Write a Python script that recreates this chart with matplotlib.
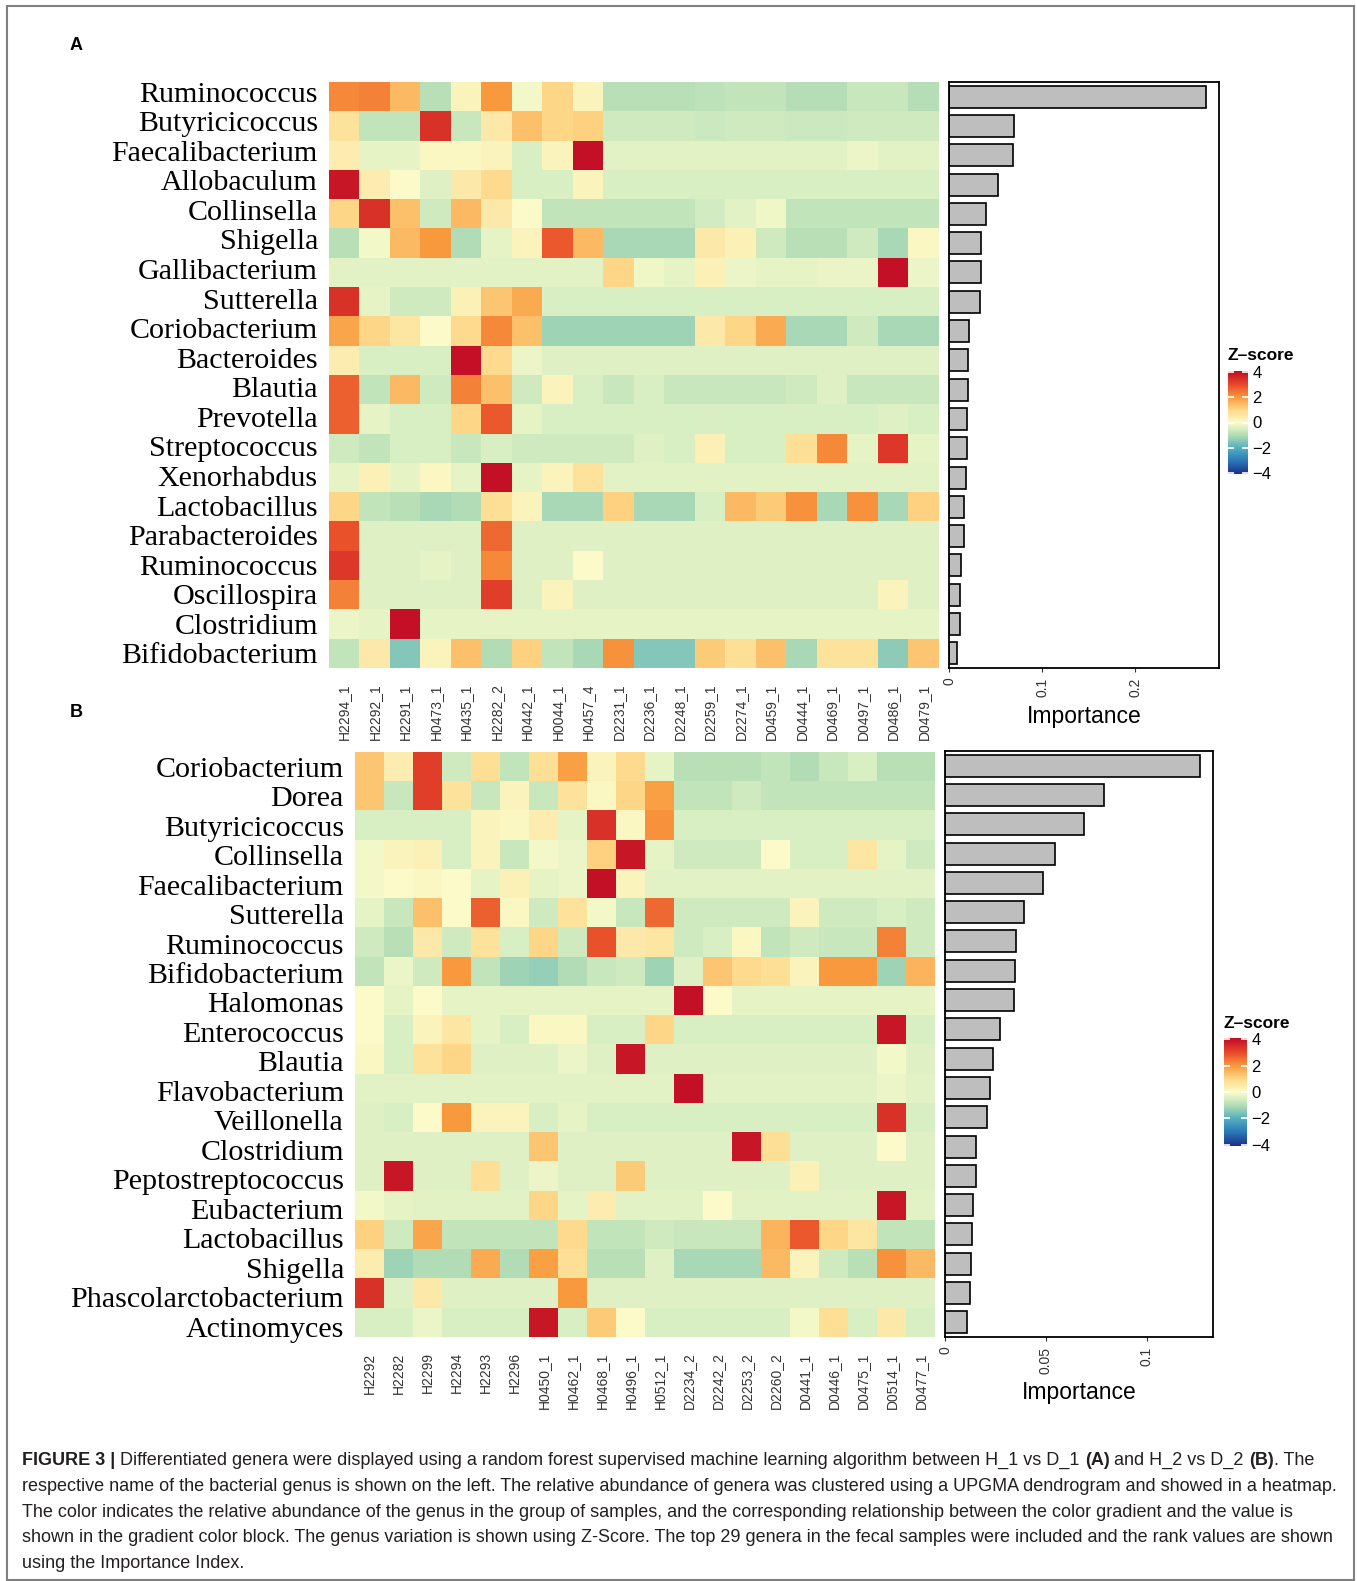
import numpy as np
import matplotlib
matplotlib.use("Agg")
import matplotlib.pyplot as plt
from matplotlib.colors import LinearSegmentedColormap, Normalize
from matplotlib.patches import Rectangle

W, H = 1357, 1581

# ---- panel A data ----
genera_a = ["Ruminococcus", "Butyricicoccus", "Faecalibacterium", "Allobaculum", "Collinsella",
            "Shigella", "Gallibacterium", "Sutterella", "Coriobacterium", "Bacteroides",
            "Blautia", "Prevotella", "Streptococcus", "Xenorhabdus", "Lactobacillus",
            "Parabacteroides", "Ruminococcus", "Oscillospira", "Clostridium", "Bifidobacterium"]
samples_a = ["H2294_1", "H2292_1", "H2291_1", "H0473_1", "H0435_1", "H2282_2", "H0442_1",
             "H0044_1", "H0457_4", "D2231_1", "D2236_1", "D2248_1", "D2259_1", "D2274_1",
             "D0459_1", "D0444_1", "D0469_1", "D0497_1", "D0486_1", "D0479_1"]
zscore_a = [
    [2.2, 2.3, 1.5, -0.9, 0.2, 2.0, -0.1, 1.0, 0.2, -0.9, -0.9, -0.9, -0.85, -0.8, -0.8, -0.95, -0.95, -0.7, -0.7, -0.95],
    [0.7, -0.8, -0.8, 3.4, -0.7, 0.5, 1.4, 1.0, 1.1, -0.6, -0.6, -0.6, -0.65, -0.6, -0.6, -0.65, -0.65, -0.6, -0.6, -0.6],
    [0.4, -0.3, -0.3, 0.1, 0.1, 0.2, -0.5, 0.2, 4.0, -0.35, -0.35, -0.35, -0.35, -0.35, -0.35, -0.35, -0.35, -0.2, -0.35, -0.35],
    [3.9, 0.4, 0.0, -0.4, 0.5, 0.9, -0.5, -0.5, 0.2, -0.5, -0.5, -0.5, -0.5, -0.5, -0.5, -0.5, -0.5, -0.5, -0.5, -0.5],
    [1.0, 3.4, 1.4, -0.6, 1.5, 0.5, 0.0, -0.8, -0.8, -0.8, -0.8, -0.8, -0.55, -0.35, -0.15, -0.8, -0.8, -0.8, -0.8, -0.8],
    [-0.9, -0.1, 1.5, 2.0, -1.0, -0.3, 0.2, 2.8, 1.5, -1.1, -1.1, -1.1, 0.5, 0.3, -0.6, -0.9, -0.9, -0.6, -1.1, 0.1],
    [-0.35, -0.35, -0.35, -0.35, -0.35, -0.35, -0.35, -0.35, -0.35, 1.0, -0.15, -0.3, 0.3, -0.2, -0.3, -0.3, -0.25, -0.25, 4.0, -0.2],
    [3.4, -0.3, -0.6, -0.6, 0.3, 1.3, 1.7, -0.5, -0.5, -0.5, -0.5, -0.5, -0.5, -0.5, -0.5, -0.5, -0.5, -0.5, -0.5, -0.5],
    [1.8, 1.0, 0.6, 0.0, 0.9, 2.2, 1.4, -1.2, -1.2, -1.2, -1.2, -1.2, 0.5, 1.0, 1.7, -1.1, -1.1, -0.6, -1.1, -1.1],
    [0.4, -0.5, -0.5, -0.5, 4.0, 0.9, -0.2, -0.4, -0.4, -0.4, -0.4, -0.4, -0.4, -0.4, -0.4, -0.4, -0.4, -0.4, -0.4, -0.4],
    [2.7, -0.8, 1.5, -0.6, 2.3, 1.4, -0.6, 0.2, -0.5, -0.7, -0.5, -0.7, -0.7, -0.7, -0.7, -0.6, -0.4, -0.7, -0.7, -0.7],
    [2.7, -0.3, -0.5, -0.5, 1.0, 2.8, -0.3, -0.5, -0.5, -0.5, -0.5, -0.5, -0.45, -0.5, -0.5, -0.5, -0.5, -0.5, -0.4, -0.5],
    [-0.6, -0.8, -0.5, -0.5, -0.7, -0.5, -0.6, -0.6, -0.6, -0.6, -0.4, -0.5, 0.3, -0.5, -0.5, 0.8, 2.2, -0.3, 3.3, -0.3],
    [-0.3, 0.3, -0.3, 0.1, -0.3, 4.0, -0.3, 0.2, 0.7, -0.35, -0.35, -0.35, -0.35, -0.35, -0.35, -0.35, -0.35, -0.35, -0.35, -0.35],
    [1.0, -0.8, -0.9, -1.1, -1.0, 0.8, 0.2, -1.1, -1.1, 1.1, -1.1, -1.1, -0.5, 1.5, 1.2, 2.1, -1.1, 2.1, -1.1, 1.1],
    [2.9, -0.4, -0.4, -0.4, -0.4, 2.6, -0.4, -0.4, -0.4, -0.4, -0.4, -0.4, -0.4, -0.4, -0.4, -0.4, -0.4, -0.4, -0.4, -0.4],
    [3.3, -0.4, -0.4, -0.3, -0.4, 2.2, -0.4, -0.4, 0.0, -0.4, -0.4, -0.4, -0.4, -0.4, -0.4, -0.4, -0.4, -0.4, -0.4, -0.4],
    [2.3, -0.4, -0.4, -0.4, -0.4, 3.2, -0.4, 0.2, -0.4, -0.4, -0.4, -0.4, -0.4, -0.4, -0.4, -0.4, -0.4, -0.4, 0.2, -0.4],
    [-0.2, -0.3, 4.0, -0.3, -0.3, -0.3, -0.3, -0.3, -0.3, -0.3, -0.3, -0.3, -0.3, -0.3, -0.3, -0.3, -0.3, -0.3, -0.3, -0.3],
    [-0.8, 0.5, -1.5, 0.2, 1.4, -1.0, 1.1, -0.8, -1.1, 2.1, -1.5, -1.5, 1.2, 0.8, 1.4, -1.1, 0.7, 0.7, -1.4, 1.3],
]
importance_a = [0.276, 0.070, 0.069, 0.0527, 0.040, 0.0343, 0.0343, 0.0329, 0.0217, 0.0206,
                0.0206, 0.0188, 0.0188, 0.018, 0.0166, 0.0166, 0.0126, 0.0119, 0.0119, 0.009]

# ---- panel B data ----
genera_b = ["Coriobacterium", "Dorea", "Butyricicoccus", "Collinsella", "Faecalibacterium",
            "Sutterella", "Ruminococcus", "Bifidobacterium", "Halomonas", "Enterococcus",
            "Blautia", "Flavobacterium", "Veillonella", "Clostridium", "Peptostreptococcus",
            "Eubacterium", "Lactobacillus", "Shigella", "Phascolarctobacterium", "Actinomyces"]
samples_b = ["H2292", "H2282", "H2299", "H2294", "H2293", "H2296", "H0450_1", "H0462_1",
             "H0468_1", "H0496_1", "H0512_1", "D2234_2", "D2242_2", "D2253_2", "D2260_2",
             "D0441_1", "D0446_1", "D0475_1", "D0514_1", "D0477_1"]
zscore_b = [
    [1.3, 0.4, 3.2, -0.6, 0.8, -0.8, 0.8, 1.9, 0.2, 0.9, -0.3, -0.9, -0.9, -0.9, -0.8, -1.0, -0.7, -0.5, -0.9, -0.9],
    [1.3, -0.7, 3.2, 0.7, -0.7, 0.2, -0.7, 0.7, 0.1, 1.0, 1.9, -0.8, -0.8, -0.6, -0.8, -0.8, -0.8, -0.8, -0.8, -0.8],
    [-0.5, -0.5, -0.5, -0.5, 0.2, 0.1, 0.4, -0.3, 3.4, 0.1, 2.1, -0.5, -0.5, -0.5, -0.5, -0.5, -0.5, -0.5, -0.5, -0.5],
    [-0.1, 0.2, 0.3, -0.5, 0.2, -0.7, -0.1, -0.2, 1.1, 3.9, -0.3, -0.6, -0.6, -0.6, 0.0, -0.5, -0.5, 0.6, -0.3, -0.6],
    [-0.1, 0.0, 0.1, 0.0, -0.3, 0.3, -0.3, -0.2, 4.0, 0.2, -0.35, -0.35, -0.35, -0.35, -0.35, -0.35, -0.35, -0.35, -0.35, -0.35],
    [-0.3, -0.7, 1.4, 0.0, 2.7, 0.1, -0.6, 0.7, -0.1, -0.7, 2.6, -0.6, -0.6, -0.6, -0.6, 0.2, -0.6, -0.6, -0.5, -0.6],
    [-0.6, -0.9, 0.5, -0.6, 0.7, -0.5, 1.0, -0.6, 2.9, 0.5, 0.6, -0.6, -0.5, 0.1, -0.8, -0.6, -0.7, -0.7, 2.3, -0.6],
    [-0.8, -0.2, -0.6, 2.0, -0.8, -1.2, -1.3, -1.0, -0.7, -0.6, -1.2, -0.4, 1.3, 0.9, 0.8, 0.2, 2.0, 2.0, -1.2, 1.6],
    [0.0, -0.3, 0.0, -0.3, -0.3, -0.3, -0.3, -0.3, -0.3, -0.3, -0.3, 4.0, 0.0, -0.3, -0.3, -0.3, -0.3, -0.3, -0.3, -0.3],
    [0.0, -0.5, 0.2, 0.6, -0.3, -0.5, 0.1, 0.1, -0.5, -0.5, 1.0, -0.5, -0.5, -0.5, -0.5, -0.5, -0.5, -0.5, 3.9, -0.5],
    [0.1, -0.5, 0.7, 1.0, -0.4, -0.4, -0.4, -0.2, -0.4, 3.9, -0.4, -0.4, -0.4, -0.4, -0.4, -0.4, -0.4, -0.4, -0.1, -0.4],
    [-0.35, -0.35, -0.35, -0.35, -0.35, -0.35, -0.35, -0.35, -0.35, -0.35, -0.35, 4.0, -0.35, -0.35, -0.35, -0.35, -0.35, -0.35, -0.2, -0.35],
    [-0.4, -0.5, 0.0, 2.0, 0.2, 0.2, -0.5, -0.3, -0.5, -0.5, -0.5, -0.5, -0.5, -0.5, -0.5, -0.5, -0.5, -0.5, 3.4, -0.5],
    [-0.4, -0.4, -0.4, -0.4, -0.4, -0.4, 1.3, -0.4, -0.4, -0.4, -0.4, -0.4, -0.4, 3.9, 0.8, -0.4, -0.4, -0.4, 0.0, -0.4],
    [-0.4, 3.9, -0.4, -0.4, 0.8, -0.4, -0.2, -0.4, -0.4, 1.2, -0.4, -0.4, -0.4, -0.4, -0.4, 0.3, -0.4, -0.4, -0.4, -0.4],
    [-0.1, -0.3, -0.35, -0.35, -0.35, -0.35, 1.0, -0.3, 0.4, -0.35, -0.35, -0.35, 0.0, -0.35, -0.35, -0.35, -0.35, -0.35, 3.9, -0.35],
    [1.1, -0.6, 1.8, -0.8, -0.8, -0.8, -0.8, 0.9, -0.8, -0.8, -0.6, -0.7, -0.7, -0.7, 1.6, 2.8, 1.0, 0.6, -0.8, -0.8],
    [0.4, -1.2, -1.0, -1.0, 1.7, -1.0, 1.9, 0.8, -0.9, -0.9, -0.4, -1.1, -1.1, -1.1, 1.5, 0.2, -0.6, -0.9, 2.1, 1.5],
    [3.4, -0.4, 0.5, -0.4, -0.4, -0.4, -0.4, 2.0, -0.4, -0.4, -0.4, -0.4, -0.4, -0.4, -0.4, -0.4, -0.4, -0.4, -0.4, -0.4],
    [-0.5, -0.5, -0.2, -0.5, -0.5, -0.5, 3.9, -0.5, 1.2, 0.0, -0.5, -0.5, -0.5, -0.5, -0.5, -0.1, 0.8, -0.5, 0.5, -0.5],
]
importance_b = [0.1266, 0.0788, 0.0688, 0.0547, 0.0484, 0.039, 0.0354, 0.0345, 0.034, 0.0273,
                0.0238, 0.0225, 0.0207, 0.0152, 0.0152, 0.014, 0.0136, 0.013, 0.0122, 0.0109]

# colour ramp of the Z-score legend
zlim = 4.1
ramp_vals = [-4.1, -3, -2, -1, -0.5, 0, 1, 2, 3, 4.1]
ramp_cols = ["#1f2e87", "#2b7bb9", "#56b0be", "#b3ddb5", "#d8eec3", "#fbfbca",
             "#fed888", "#f99a3e", "#e84a2a", "#c10b26"]
cmap = LinearSegmentedColormap.from_list(
    "zs", [((v + zlim) / (2 * zlim), c) for v, c in zip(ramp_vals, ramp_cols)])
norm = Normalize(-zlim, zlim)

fig = plt.figure(figsize=(W / 100, H / 100), dpi=100)


def px_axes(x0, y0, x1, y1):
    return fig.add_axes([x0 / W, 1 - y1 / H, (x1 - x0) / W, (y1 - y0) / H])


def draw_panel(hm_box, bar_box, cb_box, genera, samples, zs, imp, label_span,
               xticks, xticklabels, imp_y):
    ax = px_axes(*hm_box)
    ax.imshow(np.array(zs), cmap=cmap, norm=norm, aspect="auto", interpolation="nearest")
    ax.set_yticks(np.linspace(label_span[0], label_span[1], len(genera)))
    ax.set_yticklabels(genera, fontfamily="Liberation Serif", fontsize=21.6)
    ax.set_xticks(range(len(samples)))
    ax.set_xticklabels(samples, rotation=90, fontfamily="Liberation Sans", fontsize=10,
                       color="#333333")
    ax.tick_params(axis="y", length=0, pad=8)
    ax.tick_params(axis="x", length=0, pad=11)
    for s in ax.spines.values():
        s.set_visible(False)

    bx = px_axes(*bar_box)
    y = np.arange(len(imp))
    bx.barh(y, imp, height=0.75, color="#bebebe", edgecolor="black", linewidth=1.2)
    bx.set_ylim(len(imp) - 0.5, -0.5)
    bx.set_xlim(0, max(imp) * 1.05)
    bx.set_yticks([])
    bx.set_xticks(xticks)
    bx.set_xticklabels(xticklabels, rotation=90, fontfamily="Liberation Sans", fontsize=10,
                       color="#333333")
    bx.tick_params(axis="x", length=3, width=0.8, pad=4, color="#333333")
    for s in bx.spines.values():
        s.set_linewidth(1.3)
    cx = (bar_box[0] + bar_box[2]) / 2
    fig.text(cx / W, 1 - imp_y / H, "Importance", ha="center", va="center",
             fontfamily="Liberation Sans", fontsize=16.5)

    cax = px_axes(*cb_box)
    sm = plt.cm.ScalarMappable(norm=norm, cmap=cmap)
    cb = fig.colorbar(sm, cax=cax, ticks=[-4, -2, 0, 2, 4])
    cb.outline.set_visible(False)
    cax.yaxis.set_ticks_position("both")
    cax.tick_params(axis="y", direction="in", colors="white", length=4, width=1.2,
                    labelcolor="black", labelsize=12, pad=3)
    for lab in cax.get_yticklabels():
        lab.set_fontfamily("Liberation Sans")
    fig.text(cb_box[0] / W, 1 - (cb_box[1] - 15) / H, "Z\u2013score", ha="left", va="center",
             fontfamily="Liberation Sans", fontweight="bold", fontsize=12.5)


draw_panel((329, 82, 939, 668), (949, 82, 1219, 668), (1228, 371, 1248, 474),
           genera_a, samples_a, zscore_a, importance_a, (-0.17, 19.0),
           [0, 0.1, 0.2], ["0", "0.1", "0.2"], 717)
draw_panel((355, 752, 935, 1337), (945, 751, 1213, 1337), (1224, 1038, 1247, 1146),
           genera_b, samples_b, zscore_b, importance_b, (0.0, 19.15),
           [0, 0.05, 0.1], ["0", "0.05", "0.1"], 1393)

fig.text(76 / W, 1 - 46 / H, "A", ha="center", va="center", fontfamily="Liberation Sans",
         fontweight="bold", fontsize=13)
fig.text(76 / W, 1 - 713 / H, "B", ha="center", va="center", fontfamily="Liberation Sans",
         fontweight="bold", fontsize=13)

# outer frame
fig.patches.append(Rectangle((7 / W, 1 - 1580 / H), (1354 - 7) / W, (1580 - 6) / H,
                             transform=fig.transFigure, fill=False, edgecolor="#808080",
                             linewidth=1.5))

# caption
cap_family = ["Liberation Sans Narrow", "Liberation Sans"]
caption_lines = [
    [("FIGURE 3 | ", True),
     ("Differentiated genera were displayed using a random forest supervised machine learning "
      "algorithm between H_1 vs D_1 ", False), ("(A)", True), (" and H_2 vs D_2 ", False),
     ("(B)", True), (". The", False)],
    [("respective name of the bacterial genus is shown on the left. The relative abundance of "
      "genera was clustered using a UPGMA dendrogram and showed in a heatmap.", False)],
    [("The color indicates the relative abundance of the genus in the group of samples, and the "
      "corresponding relationship between the color gradient and the value is", False)],
    [("shown in the gradient color block. The genus variation is shown using Z-Score. The top 29 "
      "genera in the fecal samples were included and the rank values are shown", False)],
    [("using the Importance Index.", False)],
]
renderer = fig.canvas.get_renderer()
probe = fig.text(0, 0, caption_lines[1][0][0], fontfamily=cap_family, fontsize=12)
cap_size = 12 * (1316 / probe.get_window_extent(renderer).width)
probe.remove()

base_y = [1465, 1491, 1517, 1542, 1568]
for yb, runs in zip(base_y, caption_lines):
    x = 22
    for s, bold in runs:
        t = fig.text(x / W, 1 - yb / H, s, ha="left", va="baseline", fontfamily=cap_family,
                     fontsize=cap_size, fontweight="bold" if bold else "normal", color="#231f20")
        x += t.get_window_extent(renderer).width

fig.savefig("out.png", dpi=100)
